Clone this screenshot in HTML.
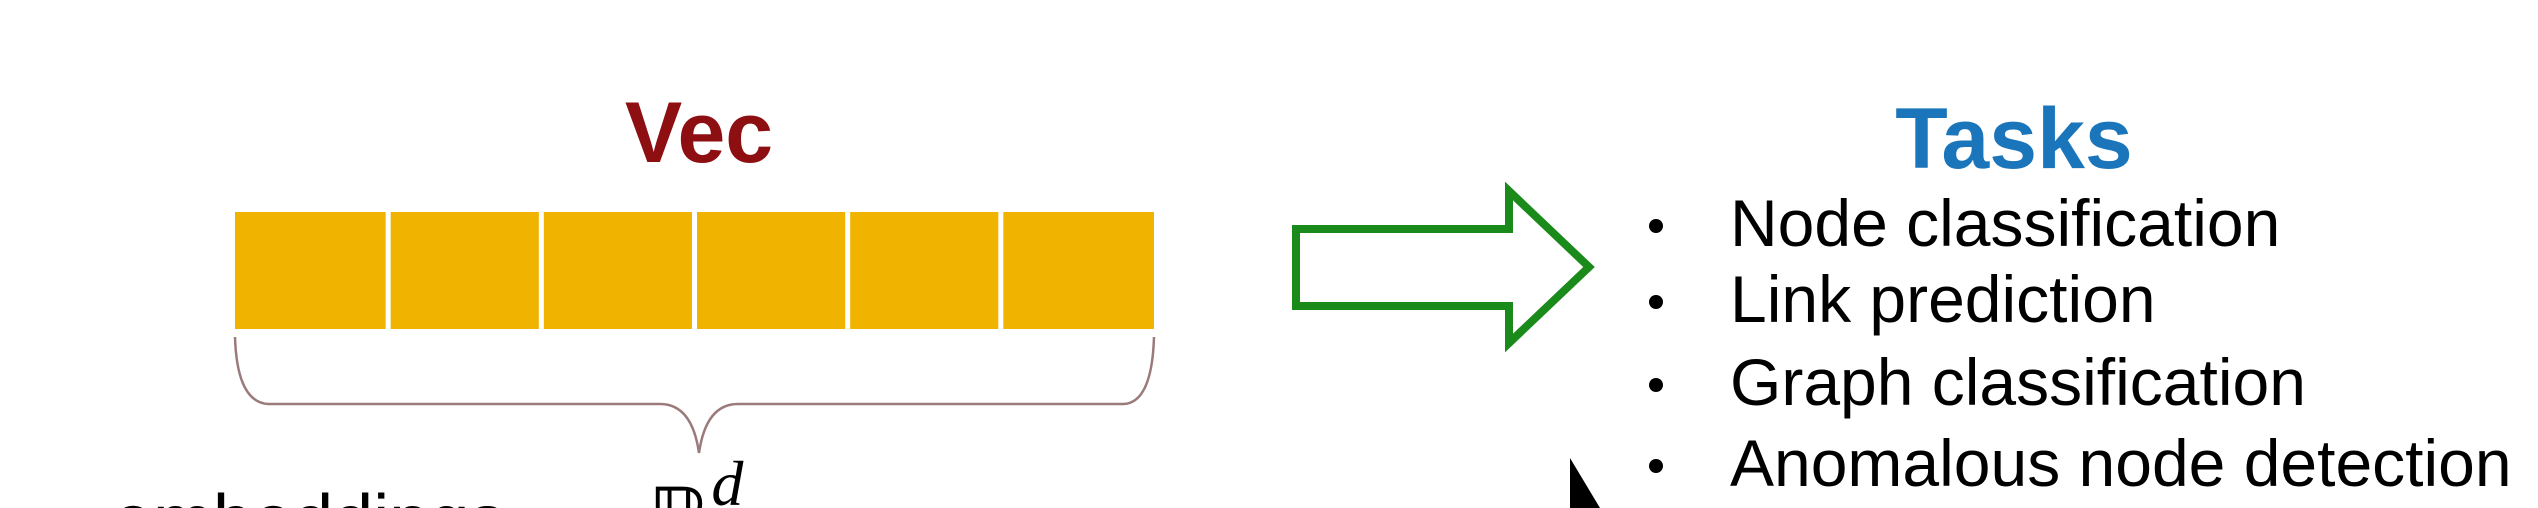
<!DOCTYPE html>
<html><head><meta charset="utf-8"><style>
html,body{margin:0;padding:0;background:#fff;width:2538px;height:508px;overflow:hidden;}
svg{display:block;}
</style></head><body>
<svg width="2538" height="508" viewBox="0 0 2538 508" xmlns="http://www.w3.org/2000/svg">
<text x="699" y="162" text-anchor="middle" font-family="Liberation Sans, sans-serif" font-weight="bold" font-size="86" fill="#8e0f12">Vec</text>
<g id="cells"></g>
<path d="M235 337 Q237 402 268 404 L660 404 Q692 404 699 453 Q706 404 738 404 L1124 404 Q1152 402 1154 337" fill="none" stroke="#9a7a7a" stroke-width="2.5"/>
<polygon points="1296,229 1509,229 1509,191 1589,267 1509,343 1509,306 1296,306" fill="#fff" stroke="#1a8a1a" stroke-width="8" stroke-linejoin="miter"/>
<text x="2014" y="168" text-anchor="middle" font-family="Liberation Sans, sans-serif" font-weight="bold" font-size="86" fill="#1a75bb">Tasks</text>
<g font-family="Liberation Sans, sans-serif" font-size="66" fill="#000">
<circle cx="1656" cy="226" r="7"/>
<text x="1730" y="246">Node classification</text>
<circle cx="1656" cy="302" r="7"/>
<text x="1730" y="322">Link prediction</text>
<circle cx="1656" cy="385" r="7"/>
<text x="1730" y="405">Graph classification</text>
<circle cx="1656" cy="466" r="7"/>
<text x="1730" y="486">Anomalous node detection</text>
</g>
<text x="113" y="545" font-family="Liberation Sans, sans-serif" font-size="72" fill="#000">embeddings</text>
<text x="648" y="545" font-family="Liberation Serif, serif" font-size="80" fill="#000">ℝ<tspan font-style="italic" dy="-40" font-size="64">d</tspan></text>
<polygon points="1570,458 1570,508 1600,508" fill="#000"/>
</svg>
<script>
const cellCount = [0,1,2,3,4,5];
const cellGroup = document.getElementById('cells');
const cellX0 = 235, cellX1 = 1154, cellTop = 212, cellBot = 329;
const cellW = (cellX1 - cellX0) / cellCount.length;
cellCount.forEach(i => {
  const r = document.createElementNS('http://www.w3.org/2000/svg','rect');
  r.setAttribute('x', cellX0 + i*cellW + (i?2.5:0));
  r.setAttribute('y', cellTop);
  r.setAttribute('width', cellW - (i?2.5:0) - (i<cellCount.length-1?2.5:0));
  r.setAttribute('height', cellBot - cellTop);
  r.setAttribute('fill', '#efb300');
  
  
  cellGroup.appendChild(r);
});
</script>
</body></html>
